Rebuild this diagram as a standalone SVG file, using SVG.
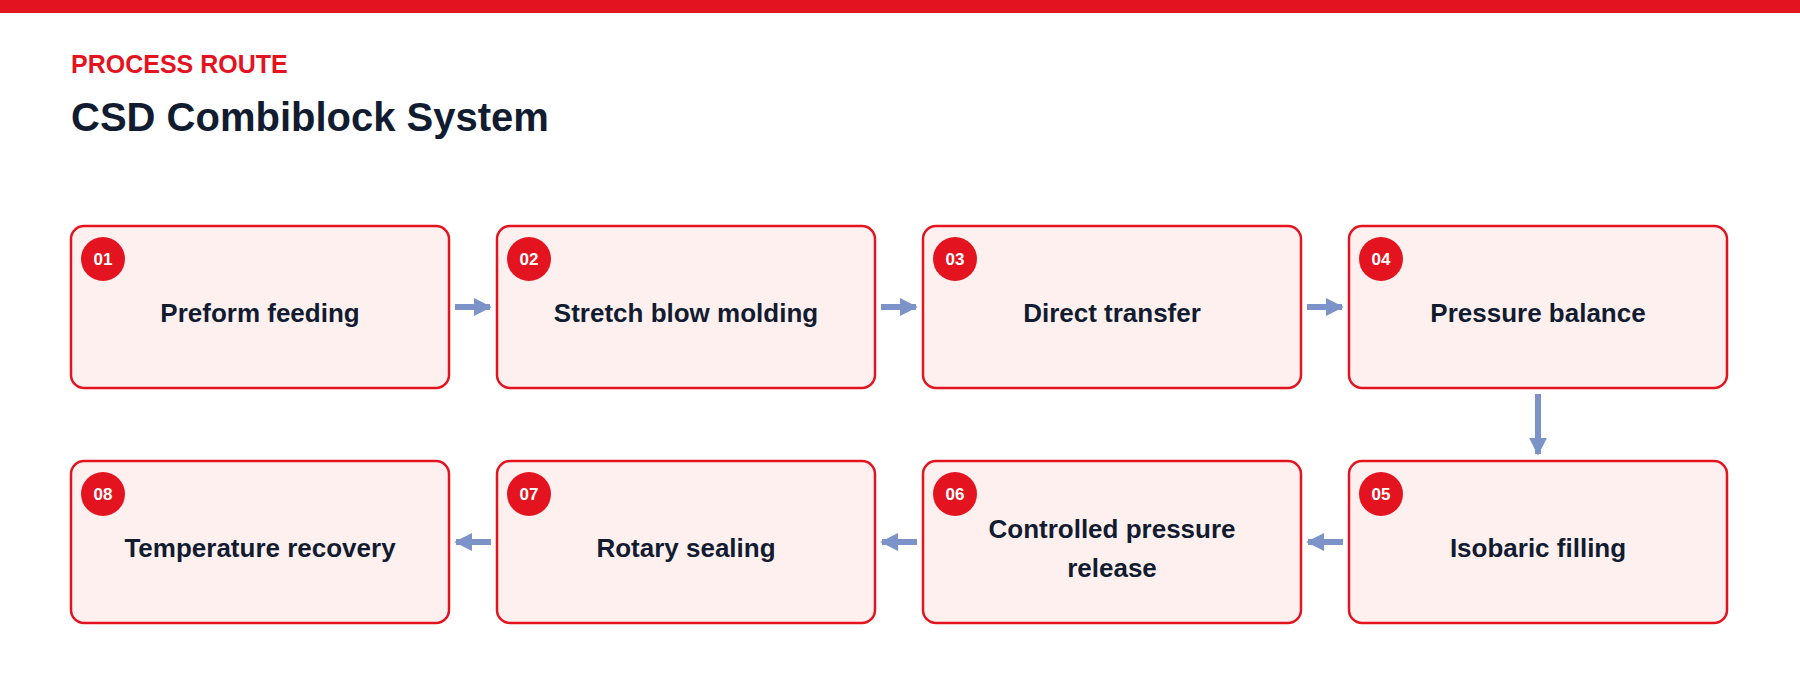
<svg xmlns="http://www.w3.org/2000/svg" width="1800" height="680" viewBox="0 0 1800 680">
<style>
.box{fill:#fff0f0;stroke:#e3141f;stroke-width:2.5}
.badge{fill:#e3141f}
.num{font-family:"Liberation Sans",Arial,sans-serif;font-weight:bold;font-size:17px;fill:#fff;text-anchor:middle}
.lbl{font-family:"Liberation Sans",Arial,sans-serif;font-weight:bold;font-size:26px;fill:#121c30;text-anchor:middle}
.c{stroke:#7b93c8;stroke-width:6;fill:none}
</style>
<defs><marker id="ah" viewBox="0 0 10 10" refX="9" refY="5" markerWidth="3" markerHeight="3" orient="auto" markerUnits="strokeWidth"><path d="M0,0L10,5L0,10z" fill="#7b93c8"/></marker></defs>
<rect width="1800" height="680" fill="#fff"/>
<rect width="1800" height="13" fill="#e3141f"/>
<text x="71" y="73" font-family="Liberation Sans,Arial,sans-serif" font-weight="bold" font-size="25" fill="#e3141f">PROCESS ROUTE</text>
<text x="71" y="131" font-family="Liberation Sans,Arial,sans-serif" font-weight="bold" font-size="40" fill="#121c30">CSD Combiblock System</text>
<g id="connectors">
<line class="c" x1="455" y1="307" x2="490" y2="307" marker-end="url(#ah)"/>
<line class="c" x1="881" y1="307" x2="916" y2="307" marker-end="url(#ah)"/>
<line class="c" x1="1307" y1="307" x2="1342" y2="307" marker-end="url(#ah)"/>
<line class="c" x1="1538" y1="394" x2="1538" y2="454" marker-end="url(#ah)"/>
<line class="c" x1="1343" y1="542" x2="1308" y2="542" marker-end="url(#ah)"/>
<line class="c" x1="917" y1="542" x2="882" y2="542" marker-end="url(#ah)"/>
<line class="c" x1="491" y1="542" x2="456" y2="542" marker-end="url(#ah)"/>
</g>
<g id="n1"><rect class="box" x="71" y="226" width="378" height="162" rx="13"/><circle class="badge" cx="103" cy="259" r="22"/><text class="num" x="103" y="265">01</text><text class="lbl" x="260" y="322">Preform feeding</text></g>
<g id="n2"><rect class="box" x="497" y="226" width="378" height="162" rx="13"/><circle class="badge" cx="529" cy="259" r="22"/><text class="num" x="529" y="265">02</text><text class="lbl" x="686" y="322">Stretch blow molding</text></g>
<g id="n3"><rect class="box" x="923" y="226" width="378" height="162" rx="13"/><circle class="badge" cx="955" cy="259" r="22"/><text class="num" x="955" y="265">03</text><text class="lbl" x="1112" y="322">Direct transfer</text></g>
<g id="n4"><rect class="box" x="1349" y="226" width="378" height="162" rx="13"/><circle class="badge" cx="1381" cy="259" r="22"/><text class="num" x="1381" y="265">04</text><text class="lbl" x="1538" y="322">Pressure balance</text></g>
<g id="n5"><rect class="box" x="1349" y="461" width="378" height="162" rx="13"/><circle class="badge" cx="1381" cy="494" r="22"/><text class="num" x="1381" y="500">05</text><text class="lbl" x="1538" y="557">Isobaric filling</text></g>
<g id="n6"><rect class="box" x="923" y="461" width="378" height="162" rx="13"/><circle class="badge" cx="955" cy="494" r="22"/><text class="num" x="955" y="500">06</text><text class="lbl" x="1112" y="538">Controlled pressure</text><text class="lbl" x="1112" y="577">release</text></g>
<g id="n7"><rect class="box" x="497" y="461" width="378" height="162" rx="13"/><circle class="badge" cx="529" cy="494" r="22"/><text class="num" x="529" y="500">07</text><text class="lbl" x="686" y="557">Rotary sealing</text></g>
<g id="n8"><rect class="box" x="71" y="461" width="378" height="162" rx="13"/><circle class="badge" cx="103" cy="494" r="22"/><text class="num" x="103" y="500">08</text><text class="lbl" x="260" y="557">Temperature recovery</text></g>
</svg>
